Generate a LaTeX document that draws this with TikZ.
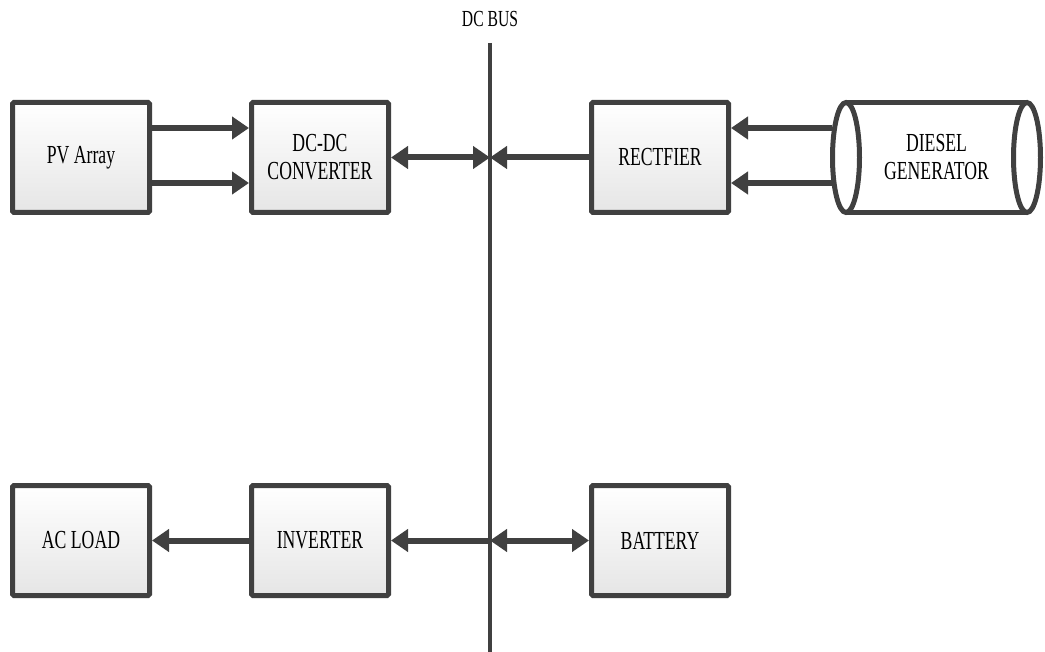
\documentclass[tikz,border=0pt]{standalone}
\usepackage{fontspec}
\setmainfont{Liberation Serif}[FakeStretch=0.68]
\usetikzlibrary{arrows.meta}
\definecolor{edge}{RGB}{64,64,64}
\tikzset{
  box/.style={draw=edge, line width=5pt, rounded corners=1.5pt, top color=white, bottom color=black!10,
    minimum width=137pt, minimum height=110pt, inner sep=0pt, align=center,
    font=\fontsize{26}{28}\selectfont},
  tip/.style={},
  arr/.style={draw=edge, line width=6pt, -{Triangle[length=17pt,width=22pt]}},
  darr/.style={draw=edge, line width=6pt, {Triangle[length=17pt,width=22pt]}-{Triangle[length=17pt,width=22pt]}},
  busline/.style={draw=edge, line width=4pt},
  cyl/.style={draw=edge, line width=5pt}
}
\begin{document}
\begin{tikzpicture}[x=1pt,y=-1pt]
\useasboundingbox (0,0) rectangle (1045,652);
% DC bus
\coordinate (busTop) at (490,43);
\coordinate (busBot) at (490,652);
\draw[busline] (busTop) -- (busBot);
\node[font=\fontsize{23}{25}\selectfont] (buslabel) at (490,19) {DC BUS};
\coordinate (busU) at (490,157.5);
\coordinate (busL) at (490,540.5);
% boxes
\node[box] (pv) at (81,157.5) {PV Array};
\node[box] (dcdc) at (320,157.5) {DC-DC\\CONVERTER};
\node[box] (rect) at (660,157.5) {RECTFIER};
\node[box] (acload) at (81,540.5) {AC LOAD};
\node[box] (inv) at (320,540.5) {INVERTER};
\node[box] (bat) at (660,540.5) {BATTERY};
% diesel generator cylinder
\fill[white] (846,102.5) rectangle (1027,212.5);
\draw[cyl] (846,102.5) -- (1027,102.5);
\draw[cyl] (846,212.5) -- (1027,212.5);
\draw[cyl, fill=white] (846,157.5) ellipse [x radius=13.5pt, y radius=55pt];
\draw[cyl] (1027,157.5) ellipse [x radius=13.5pt, y radius=55pt];
\node[minimum width=213pt, minimum height=115pt, inner sep=0pt, align=center,
      font=\fontsize{26}{28}\selectfont] (dg) at (936.5,157.5) {DIESEL\\GENERATOR};
% connectors
\draw[arr] ([yshift=29.5pt]pv.east) -- ([yshift=29.5pt]dcdc.west);
\draw[arr] ([yshift=-25.5pt]pv.east) -- ([yshift=-25.5pt]dcdc.west);
\draw[darr] (dcdc.east) -- (busU);
\draw[arr] (rect.west) -- (busU);
\draw[arr] ([xshift=2pt,yshift=29.5pt]dg.west) -- ([yshift=29.5pt]rect.east);
\draw[arr] ([xshift=2pt,yshift=-25.5pt]dg.west) -- ([yshift=-25.5pt]rect.east);
\draw[arr] (inv.west) -- (acload.east);
\draw[arr] (busL) -- (inv.east);
\draw[darr] (busL) -- (bat.west);
\end{tikzpicture}
\end{document}
